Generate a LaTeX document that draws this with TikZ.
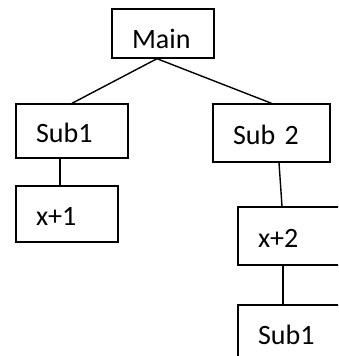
\documentclass[tikz,border=0pt]{standalone}
\usepackage{fontspec}
\setmainfont{Carlito}
\begin{document}
\begin{tikzpicture}[x=1pt,y=-1pt,line width=1.4pt,
    blk/.style={draw,rectangle,inner xsep=20pt,inner ysep=0pt,align=left,
      text height=22pt,text depth=0pt,font=\fontsize{28}{32}\selectfont}]
    \useasboundingbox (0,0) rectangle (338,356);
    \clip (0,0) rectangle (338,356);
    \node[blk,text width=62pt,minimum height=49pt,text height=29pt] (main) at (163,33.5) {Main};
    \node[blk,text width=72pt,minimum height=54pt] (sub1) at (72,131) {Sub1};
    \node[blk,text width=77pt,minimum height=58pt] (sub2) at (271.5,133) {Sub 2};
    \node[blk,text width=62pt,minimum height=56pt] (x1) at (67,214) {x+1};
    \node[blk,text width=72pt,minimum height=58pt] (x2) at (294,236) {x+2};
    \node[blk,text width=72pt,minimum height=56pt] (sub1b) at (294,333) {Sub1};
    \draw ([xshift=-6pt]main.south) -- (sub1.north);
    \draw ([xshift=-6pt]main.south) -- (sub2.north);
    \draw ([xshift=-12pt]sub1.south) -- ([xshift=-7pt]x1.north);
    \draw ([xshift=7.5pt]sub2.south) -- ([xshift=-12pt]x2.north);
    \draw ([xshift=-11pt]x2.south) -- ([xshift=-11pt]sub1b.north);
  \end{tikzpicture}
\end{document}
